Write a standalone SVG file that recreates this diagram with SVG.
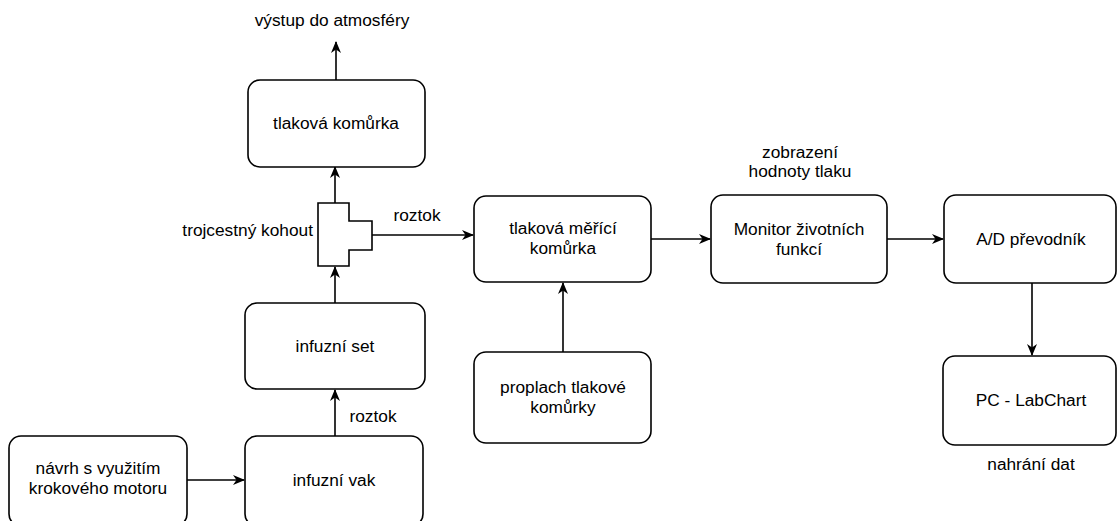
<svg xmlns="http://www.w3.org/2000/svg" width="1117" height="521" viewBox="0 0 1117 521">
  <style>
    .box { fill: #ffffff; stroke: #000000; stroke-width: 1.6; }
    .lbl { font-family: "Liberation Sans", Arial, sans-serif; font-size: 17.3px; fill: #000000; text-anchor: middle; }
    .edge { fill: none; stroke: #000000; stroke-width: 1.6; marker-end: url(#arrow); }
  </style>
  <defs>
    <marker id="arrow" viewBox="0 0 12 10" refX="11" refY="5" markerWidth="12" markerHeight="10" markerUnits="userSpaceOnUse" orient="auto">
      <path d="M0,0 L12,5 L0,10 L3.5,5 z" fill="#000000"/>
    </marker>
  </defs>
  <rect width="1117" height="521" fill="#ffffff"/>

  <g id="connectors">
    <line class="edge" x1="336" y1="80" x2="336" y2="42"/>
    <line class="edge" x1="335" y1="203" x2="335" y2="167"/>
    <line class="edge" x1="335" y1="303" x2="335" y2="267"/>
    <line class="edge" x1="335" y1="436" x2="335" y2="390"/>
    <line class="edge" x1="187" y1="480" x2="244" y2="480"/>
    <line class="edge" x1="372" y1="235" x2="473" y2="235"/>
    <line class="edge" x1="563" y1="352" x2="563" y2="283"/>
    <line class="edge" x1="651" y1="239" x2="710" y2="239"/>
    <line class="edge" x1="887" y1="239" x2="943" y2="239"/>
    <line class="edge" x1="1032" y1="283" x2="1032" y2="355"/>
    <text class="lbl" x="417" y="221">roztok</text>
    <text class="lbl" x="373" y="422">roztok</text>
  </g>

  <g id="atmosfera">
    <text class="lbl" x="332" y="26">výstup do atmosféry</text>
  </g>

  <g id="tlakova-komurka">
    <rect class="box" x="248" y="80" width="177" height="87" rx="12"/>
    <text class="lbl" x="336" y="129">tlaková komůrka</text>
  </g>

  <g id="trojcestny-kohout">
    <path class="box" d="M318,203 H349 V221 H372 V250 H349 V266 H318 Z"/>
    <text class="lbl" x="313" y="236" style="text-anchor:end">trojcestný kohout</text>
  </g>

  <g id="infuzni-set">
    <rect class="box" x="245" y="303" width="180" height="86" rx="12"/>
    <text class="lbl" x="335" y="352">infuzní set</text>
  </g>

  <g id="infuzni-vak">
    <rect class="box" x="245" y="436" width="178" height="90" rx="12"/>
    <text class="lbl" x="334" y="486">infuzní vak</text>
  </g>

  <g id="navrh">
    <rect class="box" x="9" y="436" width="178" height="90" rx="12"/>
    <text class="lbl" x="98" y="474">návrh s využitím</text>
    <text class="lbl" x="98" y="494">krokového motoru</text>
  </g>

  <g id="merici-komurka">
    <rect class="box" x="474" y="196" width="177" height="86" rx="12"/>
    <text class="lbl" x="563" y="234">tlaková měřící</text>
    <text class="lbl" x="563" y="254">komůrka</text>
  </g>

  <g id="proplach">
    <rect class="box" x="474" y="352" width="177" height="91" rx="12"/>
    <text class="lbl" x="563" y="393">proplach tlakové</text>
    <text class="lbl" x="563" y="413">komůrky</text>
  </g>

  <g id="monitor">
    <text class="lbl" x="800" y="158">zobrazení</text>
    <text class="lbl" x="800" y="177">hodnoty tlaku</text>
    <rect class="box" x="711" y="195" width="176" height="88" rx="12"/>
    <text class="lbl" x="799" y="235">Monitor životních</text>
    <text class="lbl" x="799" y="255">funkcí</text>
  </g>

  <g id="ad-prevodnik">
    <rect class="box" x="944" y="195" width="172" height="88" rx="12"/>
    <text class="lbl" x="1031" y="245">A/D převodník</text>
  </g>

  <g id="pc-labchart">
    <rect class="box" x="943" y="356" width="173" height="89" rx="12"/>
    <text class="lbl" x="1031" y="406">PC - LabChart</text>
    <text class="lbl" x="1031" y="470">nahrání dat</text>
  </g>
</svg>
